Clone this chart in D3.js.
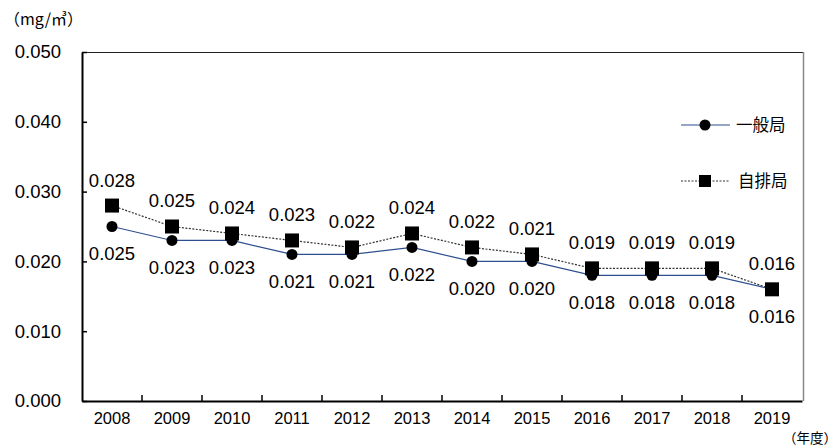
<!DOCTYPE html>
<html><head><meta charset="utf-8">
<script src="https://cdn.jsdelivr.net/npm/d3@7"></script>
<style>
html,body{margin:0;padding:0;background:#fff;}
svg{display:block;}
</style></head>
<body>
<svg id="chart" width="839" height="448"></svg>
<script>
const years = ["2008","2009","2010","2011","2012","2013","2014","2015","2016","2017","2018","2019"];
const ippan = [0.025,0.023,0.023,0.021,0.021,0.022,0.020,0.020,0.018,0.018,0.018,0.016];
const jihai = [0.028,0.025,0.024,0.023,0.022,0.024,0.022,0.021,0.019,0.019,0.019,0.016];
const yTicks = [0,0.01,0.02,0.03,0.04,0.05];
const seriesNames = ["一般局","自排局"];

const svg = d3.select("#chart");
const L=82, R=803, T=52, B=401;
const x = d3.scaleBand().domain(years).range([L, L+720]).padding(0);
const y = d3.scaleLinear().domain([0,0.05]).range([B,T]);
const numFont = "'Liberation Sans', Arial, sans-serif";
const jpFont = "'Noto Sans CJK JP', sans-serif";

// frame: top and right
svg.append("line").attr("x1",L).attr("x2",R).attr("y1",T+0.5).attr("y2",T+0.5).attr("stroke","#222").attr("stroke-width",1.2);
svg.append("line").attr("x1",R+0.5).attr("x2",R+0.5).attr("y1",T).attr("y2",B).attr("stroke","#888").attr("stroke-width",1.5);

// y axis
const yAxis = svg.append("g").attr("transform",`translate(${L},0)`)
  .call(d3.axisLeft(y).tickValues(yTicks).tickFormat(d3.format(".3f")).tickSizeInner(-5).tickSizeOuter(0).tickPadding(21));
yAxis.select(".domain").attr("stroke","#000").attr("stroke-width",2);
yAxis.selectAll(".tick line").attr("stroke","#000").attr("stroke-width",1.5);
yAxis.selectAll("text").attr("font-family",numFont).attr("font-size","18.5px").attr("fill","#000");

// x axis
const xAxis = svg.append("g").attr("transform",`translate(0,${B})`)
  .call(d3.axisBottom(x).tickSize(0).tickPadding(11));
xAxis.select(".domain").attr("stroke","#000").attr("stroke-width",2);
xAxis.selectAll("text").attr("font-family",numFont).attr("font-size","16.5px").attr("fill","#000");
// category boundary ticks (inside)
svg.append("g").selectAll("line").data(years.slice(1)).join("line")
  .attr("x1",d=>x(d)).attr("x2",d=>x(d)).attr("y1",B).attr("y2",B-6)
  .attr("stroke","#000").attr("stroke-width",1.5);

const cx = d => x(d)+x.bandwidth()/2;
const line = d3.line().x((d,i)=>cx(years[i])).y(d=>y(d));

svg.append("path").datum(ippan).attr("d",line).attr("fill","none").attr("stroke","#2E4F8F").attr("stroke-width",1.2);
svg.append("path").datum(jihai).attr("d",line).attr("fill","none").attr("stroke","#333").attr("stroke-width",1.2).attr("stroke-dasharray","2,1.5");

svg.append("g").selectAll("circle").data(ippan).join("circle")
  .attr("cx",(d,i)=>cx(years[i])).attr("cy",d=>y(d)).attr("r",5.5).attr("fill","#000");
svg.append("g").selectAll("rect").data(jihai).join("rect")
  .attr("x",(d,i)=>cx(years[i])-7).attr("y",d=>y(d)-7).attr("width",14).attr("height",14).attr("fill","#000");

// data labels
svg.append("g").selectAll("text").data(jihai).join("text")
  .attr("x",(d,i)=>cx(years[i])).attr("y",d=>y(d)-25.5).attr("dy","0.35em")
  .attr("text-anchor","middle").attr("font-family",numFont).attr("font-size","18.5px").attr("fill","#000")
  .text(d=>d3.format(".3f")(d));
svg.append("g").selectAll("text").data(ippan).join("text")
  .attr("x",(d,i)=>cx(years[i])).attr("y",d=>y(d)+27).attr("dy","0.35em")
  .attr("text-anchor","middle").attr("font-family",numFont).attr("font-size","18.5px").attr("fill","#000")
  .text(d=>d3.format(".3f")(d));

// legend
const leg = svg.append("g");
const legY = [125,181];
leg.append("line").attr("x1",681).attr("x2",730).attr("y1",legY[0]).attr("y2",legY[0]).attr("stroke","#2E4F8F").attr("stroke-width",1.2);
leg.append("circle").attr("cx",705).attr("cy",legY[0]).attr("r",5.5).attr("fill","#000");
leg.append("line").attr("x1",681).attr("x2",730).attr("y1",legY[1]).attr("y2",legY[1]).attr("stroke","#333").attr("stroke-width",1.2).attr("stroke-dasharray","2,1.5");
leg.append("rect").attr("x",699).attr("y",legY[1]-6).attr("width",12).attr("height",12).attr("fill","#000");
leg.selectAll("text").data(seriesNames).join("text")
  .attr("x",(d,i)=>i===0?736:738).attr("y",(d,i)=>legY[i]).attr("dy","0.36em")
  .attr("font-family",jpFont).attr("font-size","16.5px").attr("fill","#000").text(d=>d);

// unit labels
svg.append("text").attr("x",4).attr("y",25).attr("font-family",jpFont).attr("font-size","16px").attr("fill","#000").text("（mg/㎥）");
svg.append("text").attr("x",837).attr("y",443).attr("text-anchor","end").attr("font-family",jpFont).attr("font-size","13.5px").attr("fill","#000").text("（年度）");
</script>
</body></html>
